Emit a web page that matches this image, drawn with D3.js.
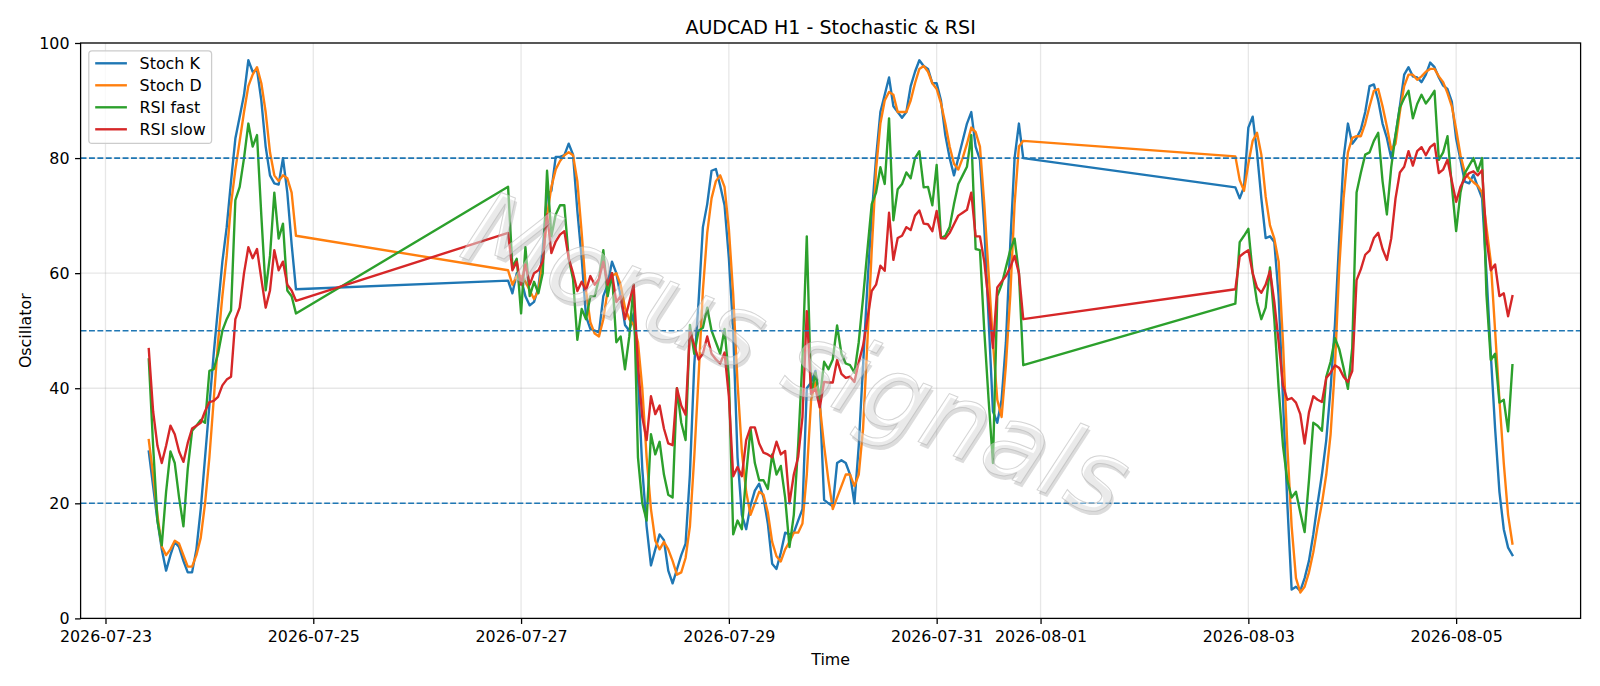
<!DOCTYPE html>
<html><head><meta charset="utf-8">
<script src="https://cdn.jsdelivr.net/npm/d3@7/dist/d3.min.js"></script>
<style>
body{margin:0;background:#fff;}
svg{display:block;font-family:"DejaVu Sans",sans-serif;}
</style>
</head><body>
<svg id="chart" width="1600" height="686"></svg>
<script>
const chartTitle = "AUDCAD H1 - Stochastic & RSI";
const xLabel = "Time";
const yLabel = "Oscillator";
const watermark = "Morus signals";
const seriesNames = ["Stoch K", "Stoch D", "RSI fast", "RSI slow"];
const seriesColors = ["#1f77b4", "#ff7f0e", "#2ca02c", "#d62728"];
// hourly bars, three trading segments
const segmentStarts = ["2026-07-23T10:00:00Z", "2026-07-26T21:00:00Z", "2026-08-02T21:00:00Z"];
const segmentLengths = [35, 120, 65];
const stochK = [
29,23,17,12,8.3,11,13.3,12.4,10,8,8,12,19,28,37,46,54,62,68,76,83.4,87.2,91,97,95,95.4,90,82,77,75.6,75.4,80,74,65,57.2,
58.7,56.5,60,59,56,54.4,55,57.5,64,73.7,
74.3,80.2,80.2,80.5,82.5,80.6,70.8,62.6,52.5,50.3,
50,49.7,56,58,62,60,56,51,50,53,
42,26,16,9.2,12,14.6,13.6,8.3,6.1,8.5,
11,13,25,44,55,68,72,77.8,78.1,75.2,
71.8,62.6,50,28,18,15.5,19.6,22.2,23.4,21,
16.5,9.5,8.6,11.4,14.9,14.6,14.9,17,19,40,
41,43,38,20.6,20,19.5,27,27.5,27,25,
20,30,44,58,70,80,88,91,94,89,
88,87,88,92.5,95,97,96,95.5,93,93,
90,84,80,77,80,83,86,88,82,79.7,
68,52,36,34,38,48,65,80,86,80,
74.9,73,75,85.3,87.2,81,73,66.1,66.4,65.4,
56,38,20,5,5.5,4.8,7,10,14.6,20,
25,31,40,51,66,80,86,82.5,83.5,85,
88,92.5,92.8,90,86,83.5,80,84,89,94.5,
95.8,94.2,94,93.2,94.5,96.6,95.8,94,92.6,92,
89.8,83.4,79.7,75.9,75.6,77.1,75,73,60,46,
33,22,15.5,12.3,11];
const stochD = [
31,25,18,12.5,11,12,13.5,13,11,9,9,11,14,20,28,38,48,56,63,72,78,83,88,92.5,94.5,95.8,93,88,81,77,76,77,76.5,74,66.5,
60.5,58,59.5,59.5,58.5,57,55.5,57,62,70,
75,78,79.5,80.5,81,80.5,76,67,57,51.5,
49.5,49,52,57,59.5,60,58,54,52,51,
48,40,28,19,13.5,12,13.3,12,10,7.6,
8,10.5,16,28,42,57,67,73,76,77,
75,67.7,56.3,41,29,22,18,20,22,21.5,
18.4,13.3,10.8,9.9,12,13.3,14.9,14.9,16.5,25,
38,41,37,30,24,19,21,23,25,25,
23,25,33,48,64,78,86,90,91.5,91,
88,88,88,90,93,95.5,96,95,93,92,
89.5,86,82,79,78,80,82.5,85.3,84.5,82,
72,60,48,38,35,44,56,72,82,83,
80.3,76.2,74.3,79,83,84.4,80.6,73.3,68.3,66,
62,48,30,16,7,4.5,5.5,8,11.5,16,
20,25,32,43.7,61,73,81,83.5,83.8,83.8,
86,89,91.7,92,89,85.5,81.5,82.5,88,92.5,
94.5,94.5,93.6,94.2,95,95.5,95.5,94.2,93.2,91.3,
89,85,80.5,77.5,76.5,75.8,75.2,74,68,62,
50,38,27,18,13];
const rsiFast = [
45,30,17,12.7,22,29,27,21,16,26,32.6,33.5,34.5,34,43,43.3,46,50,52,53.5,72.7,75,80,86,82,84,70,57,63,74,66,68.6,57,56,53,
75,61,62.5,53,64.5,56,58.5,56.5,60,77.8,
66.4,70.2,71.8,71.8,62.6,59,48.4,53.8,52,56,
56,59,64,56,60,48,49,43.3,49,58,
28,20,17,32,28.5,30.7,25,21.5,21,40,
34,31,51,46,50,50.5,54,50,48,46,
50.3,41.8,14.6,17,15.5,25,33,27,24,24,
22.5,28.5,25,26.5,21,12.4,18,30,45,66.4,
39,42.7,38,44.6,43.3,45,50.9,46,44.3,44,
42.7,48,55.7,64,72,74,78.4,75.5,86.9,69.2,
74.6,75.5,77.5,76.5,80,81.2,74.9,75,71.8,78.8,
66.1,66.5,68,72,75.5,77,78.5,84,64.2,64,
50,38,27,56,58,61,64,66,60,44,
54.7,65.4,66.5,67.7,60,55,52,54,61,52,
40,30,24,21,22,18.4,15,24,34,33.5,
32.6,42,44.6,48.7,46.8,43.5,39.9,47,74,77.5,
80.6,81,83,84.4,76,70.2,78.4,84,88.8,90.4,
91.7,86.9,89.4,91,89.5,90.5,91.7,79.7,81,83.8,
75.2,67.3,74,77.4,78.7,80,77.7,80,56.3,44.9,
46,37.5,38,32.5,44];
const rsiSlow = [
46.8,36,30,27,30,33.5,32,29,27.2,30.5,33,33.5,34,36,37.6,37.8,38.5,40.5,41.5,42,52,54,60,64.5,62.6,64.2,59,54,57,64,60.5,62,58,57,55.2,
67,60.5,62,58,61.5,58,60,60.5,62,70.2,
63.5,65.5,66.7,67.3,62.6,60,56.9,58.5,57,59.5,
58,59,62,58,60,55,56,52,55,58,
44,35,31,38.6,35.5,37,33,30.4,30.1,40,
37,35.4,50,47.5,45,46,49,46,45,44.3,
46.2,38.6,24.7,26.3,24.7,31,33.2,33.2,30.4,28.8,
28.5,28,30.7,28.5,29.1,20,25,28,35,53.4,
39,39.9,36.7,41.1,41,41,44.9,42.5,41.8,42,
41.1,44.5,47.4,52,56.9,58,61.3,60.4,70.5,62.3,
66.1,66.5,68,67.5,70,70.9,68.6,68.5,67.3,70.8,
66.1,66,67,68.5,70,70.5,71,74,66.4,66.4,
62,55,47,57.5,58.5,59.5,61,63,60,52,
57.2,62.9,63.5,64,60,57.5,56.6,58,60.4,55,
48,40.5,38,38.3,37.5,35.5,30.4,35.8,38.6,38,
37.6,41.8,42.7,44,43.5,42,41.1,43,58.8,60.7,
63.2,63.9,66.1,67,64.2,62.3,66,73,77.5,78.5,
81.2,78.7,81.2,81.9,80.5,81.9,82.5,77.4,78,79.7,
76,72.4,75,76.5,77.4,77.7,77,77.9,66,60.5,
61.5,56,56.5,52.5,56];
const yTicks = [0, 20, 40, 60, 80, 100];
const xTickLabels = ["2026-07-23","2026-07-25","2026-07-27","2026-07-29","2026-07-31","2026-08-01","2026-08-03","2026-08-05"];
const levelLines = [20, 50, 80];

(function draw() {
const HOUR = 3600e3;
const times = [];
segmentStarts.forEach((s, i) => {
  const t0 = Date.parse(s);
  for (let k = 0; k < segmentLengths[i]; k++) times.push(new Date(t0 + k * HOUR));
});
const allSeries = [stochK, stochD, rsiFast, rsiSlow];

const svg = d3.select("#chart");
const W = 1600, H = 686;
const mL = 80.6, mR = 1580.6, mT = 43, mB = 618.4;
const fs = 15.87;

const tFirst = times[0].getTime(), tLast = times[times.length - 1].getTime();
const pad = (tLast - tFirst) * 0.05;
const x = d3.scaleUtc().domain([new Date(tFirst - pad), new Date(tLast + pad)]).range([mL, mR]);
const y = d3.scaleLinear().domain([0, 100]).range([mB, mT]);
const xTicks = xTickLabels.map(s => new Date(s + "T00:00:00Z"));

svg.append("rect").attr("width", W).attr("height", H).attr("fill", "#fff");

const grid = svg.append("g").attr("stroke", "#b0b0b0").attr("stroke-opacity", 0.3).attr("stroke-width", 1.27);
grid.selectAll("line.v").data(xTicks).join("line").attr("class","v")
  .attr("x1", d => x(d)).attr("x2", d => x(d)).attr("y1", mT).attr("y2", mB);
grid.selectAll("line.h").data(yTicks).join("line").attr("class","h")
  .attr("x1", mL).attr("x2", mR).attr("y1", d => y(d)).attr("y2", d => y(d));

svg.append("clipPath").attr("id", "clip").append("rect")
  .attr("x", mL).attr("y", mT).attr("width", mR - mL).attr("height", mB - mT);
const line = d3.line().x(d => x(d[0])).y(d => y(d[1]));
const plot = svg.append("g").attr("clip-path", "url(#clip)");
allSeries.forEach((vals, i) => {
  plot.append("path").datum(times.map((t, k) => [t, vals[k]]))
    .attr("d", line).attr("fill", "none").attr("stroke", seriesColors[i])
    .attr("stroke-width", 2.38).attr("stroke-linejoin", "round").attr("stroke-linecap", "square");
});
plot.selectAll("line.lvl").data(levelLines).join("line").attr("class","lvl")
  .attr("x1", mL).attr("x2", mR).attr("y1", d => y(d)).attr("y2", d => y(d))
  .attr("stroke", "#1f77b4").attr("stroke-width", 1.59).attr("stroke-dasharray", "5.9,2.5");

// watermark with soft shadow
const wmCx = 797, wmCy = 354, wmSize = 103;
const wm = svg.append("g").attr("transform", `rotate(22, ${wmCx}, ${wmCy})`);
wm.append("text").attr("x", wmCx + 3).attr("y", wmCy + 3).attr("text-anchor", "middle")
  .attr("dominant-baseline", "central").attr("font-size", wmSize).attr("font-style", "italic")
  .attr("fill", "#808080").attr("fill-opacity", 0.28)
  .text(watermark);
wm.append("text").attr("x", wmCx).attr("y", wmCy).attr("text-anchor", "middle")
  .attr("dominant-baseline", "central").attr("font-size", wmSize).attr("font-style", "italic")
  .attr("fill", "#fff").attr("fill-opacity", 0.4).attr("stroke", "#b0b0b0").attr("stroke-opacity", 0.55).attr("stroke-width", 1)
  .text(watermark);

const xAxis = d3.axisBottom(x).tickValues(xTicks).tickFormat(d3.utcFormat("%Y-%m-%d"))
  .tickSizeInner(5.56).tickSizeOuter(0).tickPadding(5.56);
const gx = svg.append("g").attr("transform", `translate(0,${mB})`).call(xAxis);
const yAxis = d3.axisLeft(y).tickValues(yTicks).tickSizeInner(5.56).tickSizeOuter(0).tickPadding(5.56);
const gy = svg.append("g").attr("transform", `translate(${mL},0)`).call(yAxis);
[gx, gy].forEach(g => {
  g.select(".domain").remove();
  g.selectAll(".tick line").attr("stroke", "#000").attr("stroke-width", 1.27);
  g.selectAll(".tick text").attr("fill", "#000").attr("font-size", fs).attr("font-family", "DejaVu Sans");
});
gx.selectAll(".tick text").attr("dy", "0.76em");

svg.append("rect").attr("x", mL).attr("y", mT).attr("width", mR - mL).attr("height", mB - mT)
  .attr("fill", "none").attr("stroke", "#000").attr("stroke-width", 1.27);

svg.append("text").attr("x", (mL + mR) / 2).attr("y", 33.5).attr("text-anchor", "middle")
  .attr("font-size", 19.05).attr("fill", "#000").text(chartTitle);
svg.append("text").attr("x", (mL + mR) / 2).attr("y", 665).attr("text-anchor", "middle")
  .attr("font-size", fs).attr("fill", "#000").text(xLabel);
svg.append("text").attr("transform", `translate(31,${(mT + mB) / 2}) rotate(-90)`)
  .attr("text-anchor", "middle").attr("font-size", fs).attr("fill", "#000").text(yLabel);

const lg = svg.append("g");
lg.append("rect").attr("x", 88.8).attr("y", 50.8).attr("width", 122.8).attr("height", 92.6)
  .attr("rx", 3.2).attr("fill", "#fff").attr("fill-opacity", 0.8).attr("stroke", "#cccccc").attr("stroke-width", 1.27);
const rowY = [63.3, 85.3, 107.3, 129.3];
seriesNames.forEach((n, i) => {
  lg.append("line").attr("x1", 95.2).attr("x2", 126.9).attr("y1", rowY[i]).attr("y2", rowY[i])
    .attr("stroke", seriesColors[i]).attr("stroke-width", 2.38);
  lg.append("text").attr("x", 139.6).attr("y", rowY[i]).attr("dominant-baseline", "central")
    .attr("font-size", fs).attr("fill", "#000").text(n);
});
})();
</script>
</body></html>
